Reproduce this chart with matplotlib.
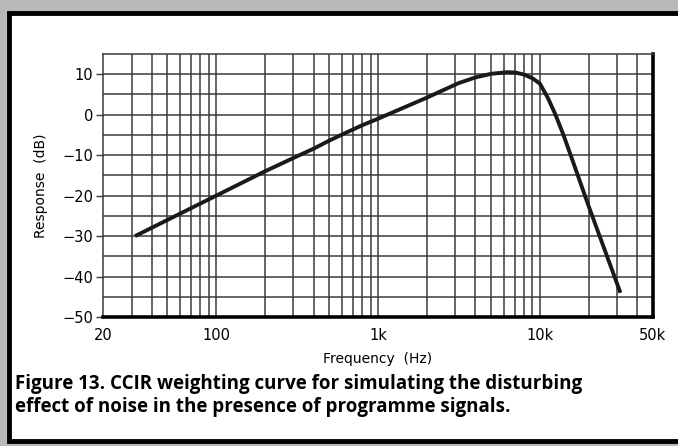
import numpy as np
import matplotlib
matplotlib.use("Agg")
import matplotlib.pyplot as plt
from matplotlib.patches import Rectangle
from matplotlib.ticker import FixedLocator, NullFormatter

# -----------------------------
# Data
# -----------------------------
freq_hz = [31.5, 63, 100, 200, 315, 400, 500, 630, 800, 1000, 2000, 3150,
           4000, 5000, 6300, 7100, 8000, 9000, 10000, 11200, 12500, 14000,
           16000, 20000, 31500]
response_db = [-30.0, -24.0, -20.0, -14.0, -10.3, -8.4, -6.4, -4.5, -2.6, -1.0,
               4.2, 7.8, 9.2, 10.1, 10.5, 10.4, 9.9, 9.0, 7.7, 4.2, 0.0, -5.0,
               -11.5, -22.5, -44.0]

x_major = [20, 100, 1000, 10000, 50000]
x_major_labels = ["20", "100", "1k", "10k", "50k"]
y_ticks = [-50, -40, -30, -20, -10, 0, 10]

GRID = "#3a3a3a"

fig = plt.figure(figsize=(6.78, 4.46), dpi=100)
fig.patch.set_facecolor("#b9b9b9")

# white page with a heavy black frame (scan look)
fig.add_artist(Rectangle((0.014, 0.012), 1.2, 0.958, transform=fig.transFigure,
                         facecolor="white", edgecolor="black", lw=3.5, zorder=-10))

ax = fig.add_axes([0.152, 0.289, 0.811, 0.590])
ax.set_zorder(1)
ax.set_xscale("log")
ax.set_xlim(20, 50000)
ax.set_ylim(-50, 15)

# grid: every decade step and every 5 dB
minor_x = [m * 10 ** d for d in range(1, 5) for m in range(2, 10)]
minor_x = [v for v in minor_x if 20 < v < 50000 and v not in x_major]
for v in minor_x + [100, 1000, 10000]:
    ax.axvline(v, color=GRID, lw=1.1, zorder=1)
for v in np.arange(-45, 15, 5):
    ax.axhline(v, color=GRID, lw=1.1, zorder=1)

ax.plot(freq_hz, response_db, color="#1a1a1a", lw=2.8, solid_capstyle="butt",
        solid_joinstyle="round", zorder=3)

ax.xaxis.set_major_locator(FixedLocator(x_major))
ax.set_xticklabels(x_major_labels)
ax.xaxis.set_minor_formatter(NullFormatter())
ax.tick_params(axis="x", which="both", length=0, pad=8, labelsize=10.5)
ax.set_yticks(y_ticks)
ax.tick_params(axis="y", length=5, width=1, color=GRID, pad=2, labelsize=10.5)

for s in ["top", "left"]:
    ax.spines[s].set_color(GRID)
    ax.spines[s].set_linewidth(1.1)
ax.spines["bottom"].set_linewidth(2.6)
ax.spines["right"].set_linewidth(2.6)

ax.set_xlabel("Frequency  (Hz)", fontsize=10, labelpad=6)
ax.set_ylabel("Response  (dB)", fontsize=10, labelpad=10)

fig.text(0.022, 0.114,
         "Figure 13. CCIR weighting curve for simulating the disturbing\n"
         "effect of noise in the presence of programme signals.",
         fontsize=13.5, fontweight="bold", family="Open Sans", ha="left", va="center",
         linespacing=1.2)

fig.savefig("out.png", dpi=100)
